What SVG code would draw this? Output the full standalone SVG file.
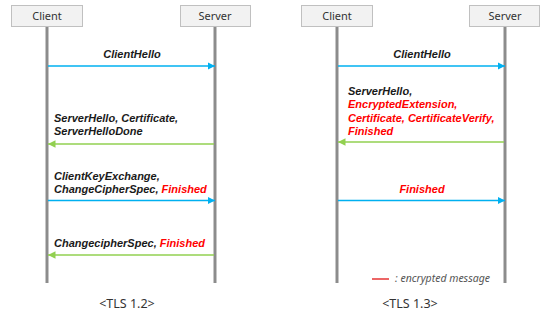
<svg xmlns="http://www.w3.org/2000/svg" width="541" height="323" viewBox="0 0 541 323">
<style>
.box{fill:#f2f2f2;stroke:#c0c0c0;stroke-width:1}
.bt{font-family:"Noto Sans","Liberation Sans",sans-serif;font-size:11px;fill:#333;text-anchor:middle}
.life{stroke:#8c8c8c;stroke-width:3}
.m{font-family:"Liberation Sans",Arial,sans-serif;font-size:11px;font-weight:bold;font-style:italic;fill:#1a1a1a}
.r{fill:#ff0000}
.blue{stroke:#00b0f0;stroke-width:1.5;fill:none}
.green{stroke:#92d050;stroke-width:1.5;fill:none}
.cap{font-family:"Noto Sans","Liberation Sans",sans-serif;font-size:12.5px;fill:#333;text-anchor:middle}
.leg{font-family:"Noto Sans","Liberation Sans",sans-serif;font-size:10.5px;font-style:italic;fill:#555}
</style>
<defs>
<marker id="ab" viewBox="0 0 10 10" refX="10" refY="5" markerWidth="5" markerHeight="5" orient="auto" markerUnits="strokeWidth"><path d="M0,0 L10,5 L0,10 z" fill="#00b0f0"/></marker>
<marker id="ag" viewBox="0 0 10 10" refX="10" refY="5" markerWidth="5" markerHeight="5" orient="auto" markerUnits="strokeWidth"><path d="M0,0 L10,5 L0,10 z" fill="#92d050"/></marker>
</defs>
<g id="lifelines">
<line class="life" x1="47" y1="27" x2="47" y2="283"/>
<line class="life" x1="215" y1="27" x2="215" y2="283"/>
<line class="life" x1="337" y1="27" x2="337" y2="283"/>
<line class="life" x1="505" y1="27" x2="505" y2="283"/>
</g>
<g id="client12"><rect class="box" x="11.5" y="5.5" width="71" height="21"/><text class="bt" x="47" y="20">Client</text></g>
<g id="server12"><rect class="box" x="180.5" y="5.5" width="70" height="21"/><text class="bt" x="215" y="20">Server</text></g>
<g id="client13"><rect class="box" x="301.5" y="5.5" width="71" height="21"/><text class="bt" x="337" y="20">Client</text></g>
<g id="server13"><rect class="box" x="469.5" y="5.5" width="70" height="21"/><text class="bt" x="505" y="20">Server</text></g>
<g id="connectors">
<line class="blue" x1="48" y1="66" x2="215" y2="66" marker-end="url(#ab)"/>
<line class="green" x1="214" y1="144" x2="48" y2="144" marker-end="url(#ag)"/>
<line class="blue" x1="48" y1="200.5" x2="215" y2="200.5" marker-end="url(#ab)"/>
<line class="green" x1="214" y1="255" x2="48" y2="255" marker-end="url(#ag)"/>
<line class="blue" x1="338" y1="66" x2="505" y2="66" marker-end="url(#ab)"/>
<line class="green" x1="504" y1="142" x2="338" y2="142" marker-end="url(#ag)"/>
<line class="blue" x1="338" y1="200.5" x2="505" y2="200.5" marker-end="url(#ab)"/>
</g>
<g id="labels">
<text class="m" x="132" y="58" text-anchor="middle">ClientHello</text>
<text class="m" x="54" y="122">ServerHello, Certificate,</text>
<text class="m" x="54" y="135">ServerHelloDone</text>
<text class="m" x="54" y="180">ClientKeyExchange,</text>
<text class="m" x="54" y="193">ChangeCipherSpec, <tspan class="r">Finished</tspan></text>
<text class="m" x="54" y="247">ChangecipherSpec, <tspan class="r">Finished</tspan></text>
<text class="m" x="422" y="58" text-anchor="middle">ClientHello</text>
<text class="m" x="348" y="95">ServerHello,</text>
<text class="m r" x="348" y="108">EncryptedExtension,</text>
<text class="m r" x="348" y="122">Certificate, CertificateVerify,</text>
<text class="m r" x="348" y="135">Finished</text>
<text class="m r" x="422" y="193" text-anchor="middle">Finished</text>
</g>
<g id="legend">
<line x1="372" y1="279" x2="389" y2="279" stroke="#e00000" stroke-width="1.2"/>
<text class="leg" x="395" y="282">: encrypted message</text>
</g>
<text class="cap" x="127" y="308">&lt;TLS 1.2&gt;</text>
<text class="cap" x="410" y="308">&lt;TLS 1.3&gt;</text>
</svg>
